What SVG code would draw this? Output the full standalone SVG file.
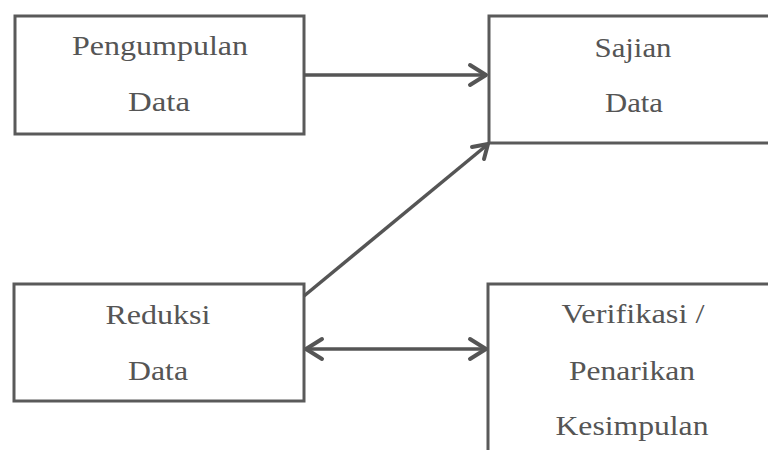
<svg xmlns="http://www.w3.org/2000/svg" width="768" height="450" viewBox="0 0 768 450">
<defs>
<style>
.box{fill:#fff;stroke:#5a5a5a;stroke-width:3}
.lbl{font-family:"Liberation Serif","Times New Roman",serif;font-size:27px;fill:#555;text-anchor:middle}
.con{stroke:#555;stroke-width:3.5;fill:none}
.head{stroke:#555;stroke-width:4;fill:none;stroke-linecap:round;stroke-linejoin:round}
</style>
</defs>
<rect width="768" height="450" fill="#fff"/>
<g id="pengumpulan">
<rect class="box" x="15" y="16" width="289" height="118"/>
<text class="lbl" x="160" y="55" textLength="176" lengthAdjust="spacingAndGlyphs">Pengumpulan</text>
<text class="lbl" x="159" y="111" textLength="62" lengthAdjust="spacingAndGlyphs">Data</text>
</g>
<g id="sajian">
<rect class="box" x="489" y="16" width="290" height="127"/>
<text class="lbl" x="633" y="57" textLength="77" lengthAdjust="spacingAndGlyphs">Sajian</text>
<text class="lbl" x="634" y="112" textLength="58" lengthAdjust="spacingAndGlyphs">Data</text>
</g>
<g id="reduksi">
<rect class="box" x="14" y="284" width="290" height="117"/>
<text class="lbl" x="158" y="324" textLength="105" lengthAdjust="spacingAndGlyphs">Reduksi</text>
<text class="lbl" x="158" y="380" textLength="60" lengthAdjust="spacingAndGlyphs">Data</text>
</g>
<g id="verifikasi">
<rect class="box" x="488" y="284" width="290" height="180"/>
<text class="lbl" x="633" y="323" textLength="143" lengthAdjust="spacingAndGlyphs">Verifikasi /</text>
<text class="lbl" x="632" y="380" textLength="126" lengthAdjust="spacingAndGlyphs">Penarikan</text>
<text class="lbl" x="632" y="435" textLength="153" lengthAdjust="spacingAndGlyphs">Kesimpulan</text>
</g>
<g id="connectors">
<line class="con" x1="304" y1="75" x2="485" y2="75"/>
<polyline class="head" points="470,65 486,75 470,85"/>
<line class="con" x1="304" y1="296" x2="487" y2="145"/>
<polyline class="head" points="472,147 488,144 484,159"/>
<line class="con" x1="307" y1="349" x2="485" y2="349"/>
<polyline class="head" points="322,339 306,349 322,359"/>
<polyline class="head" points="470,339 486,349 470,359"/>
</g>
</svg>
